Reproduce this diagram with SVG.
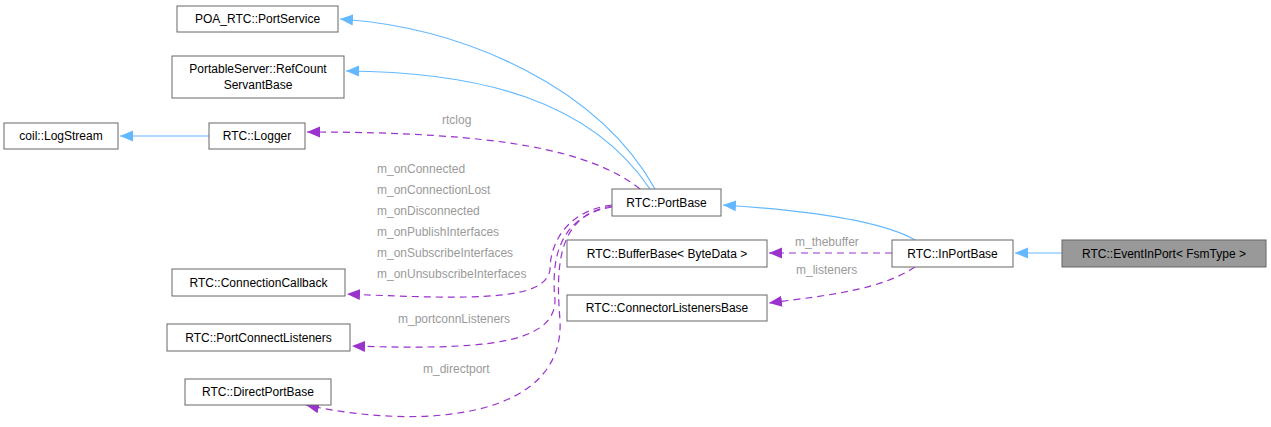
<svg xmlns="http://www.w3.org/2000/svg" width="1271" height="427" viewBox="0 0 1271 427">
<style>
.n rect{fill:#fff;stroke:#666;stroke-width:1}
text{font-family:"Liberation Sans",Arial,sans-serif;font-size:12px;fill:#000}
.l{fill:#9a9a9a;font-size:12px}
.inh{fill:none;stroke:#63b8ff;stroke-width:1.2}
.use{fill:none;stroke:#9a32cd;stroke-width:1.2;stroke-dasharray:7,5}
</style>
<defs>
<marker id="ab" markerWidth="14" markerHeight="12" refX="13" refY="6" orient="auto" markerUnits="userSpaceOnUse"><path d="M13,6 L0,0.5 L0,11.5 Z" fill="#63b8ff"/></marker>
<marker id="ap" markerWidth="14" markerHeight="12" refX="13" refY="6" orient="auto" markerUnits="userSpaceOnUse"><path d="M13,6 L0,0.5 L0,11.5 Z" fill="#9a32cd"/></marker>
</defs>
<g id="edges">
<path class="inh" d="M655,189 C600,90 470,28 340,19" marker-end="url(#ab)"/>
<path class="inh" d="M650,189 C590,100 480,72 346,71" marker-end="url(#ab)"/>
<path class="inh" d="M209,136 L120,136" marker-end="url(#ab)"/>
<path class="inh" d="M915,240 C880,220 800,210 723,205" marker-end="url(#ab)"/>
<path class="inh" d="M1062,253 L1015,253" marker-end="url(#ab)"/>
<path class="use" d="M640,189 C590,150 500,132 307,132" marker-end="url(#ap)"/>
<path class="use" d="M612,205 C570,210 550,240 550,270 C545,300 480,300 347,294" marker-end="url(#ap)"/>
<path class="use" d="M612,207 C565,215 550,250 555,300 C555,345 480,350 352,346" marker-end="url(#ap)"/>
<path class="use" d="M612,206 C560,215 555,260 560,320 C565,420 420,430 306,405" marker-end="url(#ap)"/>
<path class="use" d="M892,253 L769,253" marker-end="url(#ap)"/>
<path class="use" d="M915,267 C880,290 830,295 769,303" marker-end="url(#ap)"/>
</g>
<g class="l-group">
<text class="l" x="442" y="124">rtclog</text>
<text class="l" x="377" y="173">m_onConnected</text>
<text class="l" x="377" y="194">m_onConnectionLost</text>
<text class="l" x="377" y="215">m_onDisconnected</text>
<text class="l" x="377" y="236">m_onPublishInterfaces</text>
<text class="l" x="377" y="257">m_onSubscribeInterfaces</text>
<text class="l" x="377" y="278">m_onUnsubscribeInterfaces</text>
<text class="l" x="398" y="323">m_portconnListeners</text>
<text class="l" x="423" y="373">m_directport</text>
<text class="l" x="795" y="246">m_thebuffer</text>
<text class="l" x="796" y="274">m_listeners</text>
</g>
<g id="n1" class="n"><rect x="177" y="6" width="161" height="26"/><text x="257.5" y="23" text-anchor="middle">POA_RTC::PortService</text></g>
<g id="n2" class="n"><rect x="172" y="56" width="172" height="42"/><text x="258" y="73" text-anchor="middle">PortableServer::RefCount</text><text x="258" y="89" text-anchor="middle">ServantBase</text></g>
<g id="n3" class="n"><rect x="4" y="123" width="114" height="26"/><text x="61" y="140" text-anchor="middle">coil::LogStream</text></g>
<g id="n4" class="n"><rect x="209" y="123" width="96" height="26"/><text x="257" y="140" text-anchor="middle">RTC::Logger</text></g>
<g id="n5" class="n"><rect x="172" y="269" width="173" height="27"/><text x="258.5" y="287" text-anchor="middle">RTC::ConnectionCallback</text></g>
<g id="n6" class="n"><rect x="167" y="324" width="183" height="27"/><text x="258.5" y="342" text-anchor="middle">RTC::PortConnectListeners</text></g>
<g id="n7" class="n"><rect x="185" y="379" width="146" height="26"/><text x="258" y="396" text-anchor="middle">RTC::DirectPortBase</text></g>
<g id="n8" class="n"><rect x="612" y="189" width="109" height="27"/><text x="666.5" y="207" text-anchor="middle">RTC::PortBase</text></g>
<g id="n9" class="n"><rect x="567" y="240" width="200" height="27"/><text x="667" y="258" text-anchor="middle">RTC::BufferBase&lt; ByteData &gt;</text></g>
<g id="n10" class="n"><rect x="567" y="295" width="200" height="26"/><text x="667" y="312" text-anchor="middle">RTC::ConnectorListenersBase</text></g>
<g id="n11" class="n"><rect x="892" y="240" width="121" height="27"/><text x="952.5" y="258" text-anchor="middle">RTC::InPortBase</text></g>
<g id="n12" class="n"><rect x="1062" y="240" width="204" height="27" style="fill:#999"/><text x="1164" y="258" text-anchor="middle">RTC::EventInPort&lt; FsmType &gt;</text></g>
</svg>
